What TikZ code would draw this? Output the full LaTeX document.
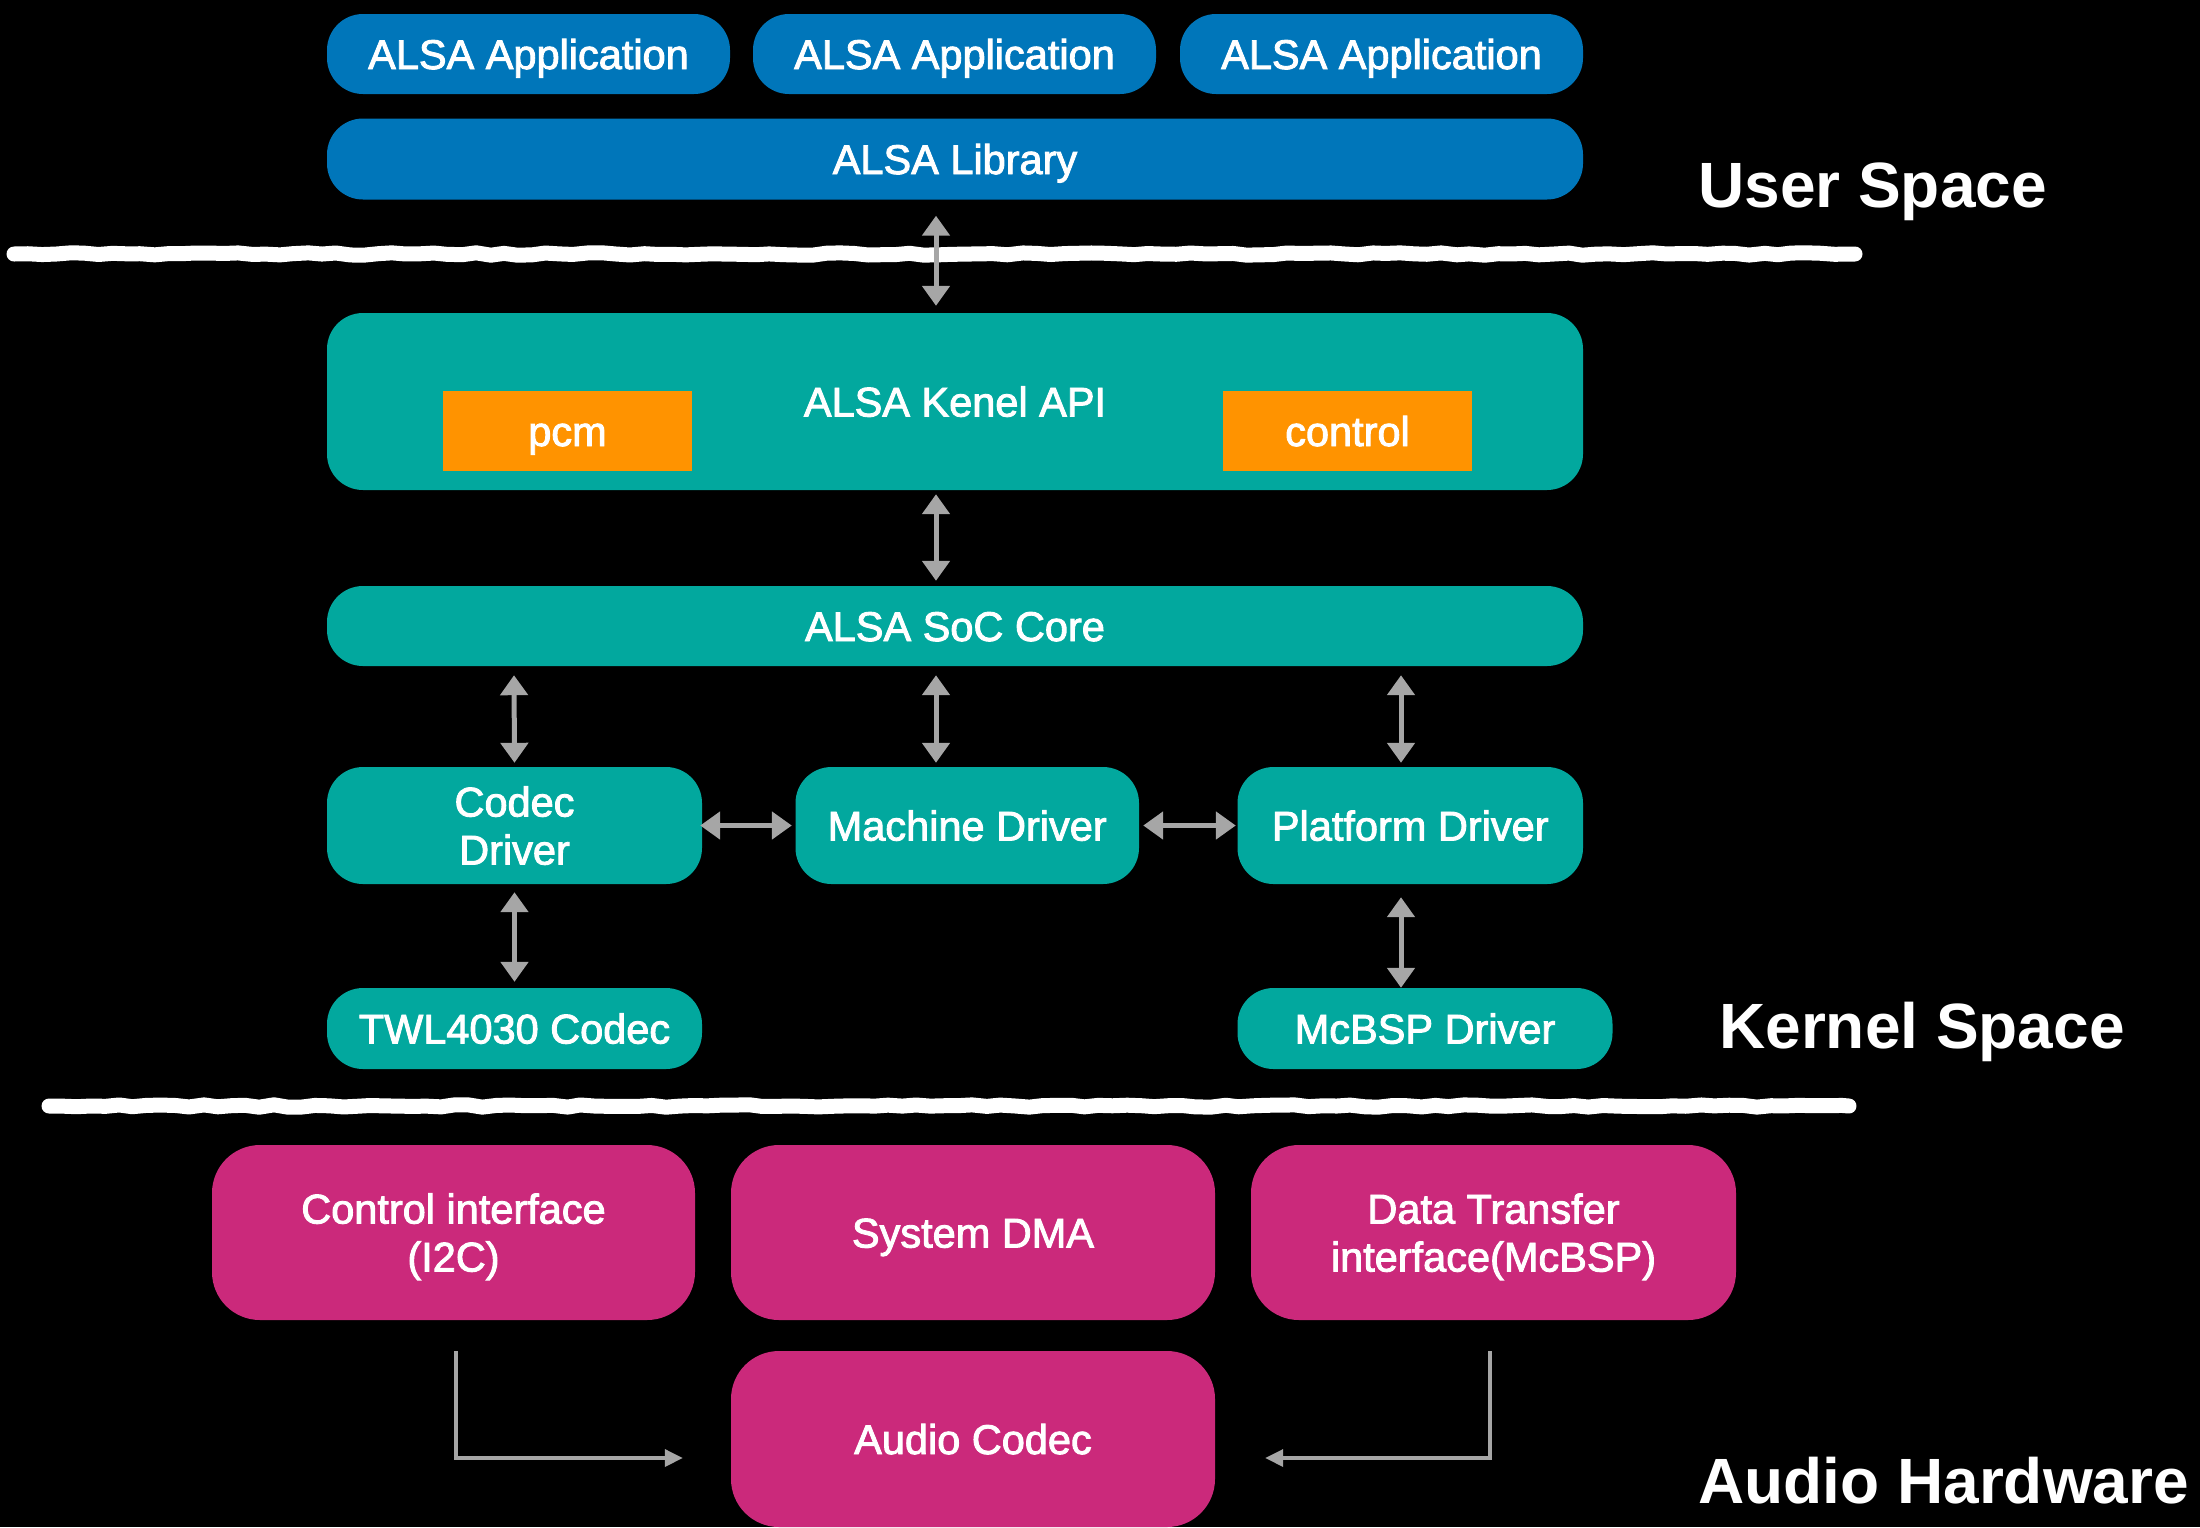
\documentclass[tikz,border=0pt]{standalone}
\usepackage{fontspec}
\setmainfont{Liberation Sans}
\newfontfamily\medfont{Liberation Sans}[FakeBold=2.2]
\usetikzlibrary{arrows.meta,decorations.pathmorphing,calc}
\definecolor{alsablue}{HTML}{0076BA}
\definecolor{kteal}{HTML}{02A89E}
\definecolor{korange}{HTML}{FF9300}
\definecolor{hwpink}{HTML}{CB297B}
\definecolor{arrowgrey}{HTML}{A6A6A6}
\begin{document}
\begin{tikzpicture}[x=1pt,y=-1pt,
  box/.style={inner sep=0pt, text=white, align=center,
    font=\medfont\fontsize{41.5}{48}\selectfont, text height=30pt, text depth=0pt},
  twoline/.style={text height=78pt, text depth=0pt},
  userbox/.style={box, fill=alsablue, rounded corners=36pt},
  kernbox/.style={box, fill=kteal, rounded corners=36pt},
  subbox/.style={box, fill=korange},
  hwbox/.style={box, fill=hwpink, rounded corners=48pt},
  biarrow/.style={draw=arrowgrey, line width=5pt,
    {Triangle[width=27pt,length=20pt]}-{Triangle[width=27pt,length=20pt]}},
  feed/.style={draw=arrowgrey, line width=3.5pt, -{Triangle[width=17pt,length=18pt]}},
  border/.style={draw=white, line width=15pt, line cap=round, line join=round,
    decorate, decoration={random steps, segment length=14pt, amplitude=1.2pt}},
  zone/.style={inner sep=0pt, anchor=base west, text=white,
    font=\bfseries\fontsize{64}{70}\selectfont}
]
\useasboundingbox (0,0) rectangle (2200,1527);
\fill[black] (0,0) rectangle (2200,1527);
\pgfmathsetseed{7}

% user space
\node[userbox, minimum width=403pt, minimum height=80pt] (app1) at (528.5,54) {ALSA Application};
\node[userbox, minimum width=403pt, minimum height=80pt] (app2) at (954.5,54) {ALSA Application};
\node[userbox, minimum width=403pt, minimum height=80pt] (app3) at (1381.5,54) {ALSA Application};
\node[userbox, minimum width=1256pt, minimum height=81pt] (lib) at (955,159) {ALSA Library};

% kernel space
\node[kernbox, minimum width=1256pt, minimum height=177pt] (api) at (955,401.5) {ALSA Kenel API};
\node[subbox, minimum width=249pt, minimum height=80pt] (pcm) at (567.5,431) {pcm};
\node[subbox, minimum width=249pt, minimum height=80pt] (ctl) at (1347.5,431) {control};
\node[kernbox, minimum width=1256pt, minimum height=80pt] (soc) at (955,626) {ALSA SoC Core};
\node[kernbox, twoline, minimum width=375pt, minimum height=117pt] (codec) at (514.5,825.5) {Codec\\Driver};
\node[kernbox, minimum width=343.5pt, minimum height=117pt] (machine) at (967.25,825.5) {Machine Driver};
\node[kernbox, minimum width=345.5pt, minimum height=117pt] (platform) at (1410.25,825.5) {Platform Driver};
\node[kernbox, minimum width=375pt, minimum height=81pt] (twl) at (514.5,1028.5) {TWL4030 Codec};
\node[kernbox, minimum width=375pt, minimum height=81pt] (mcbsp) at (1425,1028.5) {McBSP Driver};

% audio hardware
\node[hwbox, twoline, minimum width=483pt, minimum height=175pt] (ctrl) at (453.5,1232.5) {Control interface\\(I2C)};
\node[hwbox, minimum width=484pt, minimum height=175pt] (dma) at (973,1232.5) {System DMA};
\node[hwbox, twoline, minimum width=485pt, minimum height=175pt] (dt) at (1493.5,1232.5) {Data Transfer\\interface(McBSP)};
\node[hwbox, minimum width=484pt, minimum height=176pt] (audio) at (973,1439) {Audio Codec};

% space boundaries
\draw[border] (14,254) -- (1855,254);
\draw[border] (49,1106) -- (1849,1106);

% zone labels
\node[zone] (uspace) at (1698,207) {User Space};
\node[zone] (kspace) at (1719,1048) {Kernel Space};
\node[zone] (hspace) at (1698,1503) {Audio Hardware};

% interfaces between layers
\draw[biarrow] ($(lib.south)+(-19,16)$) -- ($(api.north)+(-19,-7)$);
\draw[biarrow] ($(api.south)+(-19,4)$) -- ($(soc.north)+(-19,-5)$);
\draw[biarrow] ($(soc.south)+(-441,9)$) -- ($(codec.north)+(0,-4)$);
\draw[biarrow] ($(soc.south)+(-19,9)$) -- ($(machine.north)+(-31.25,-4)$);
\draw[biarrow] ($(soc.south)+(446,9)$) -- ($(platform.north)+(-9.25,-4)$);
\draw[biarrow] ($(codec.east)+(-2,0)$) -- ($(machine.west)+(-3.5,0)$);
\draw[biarrow] ($(machine.east)+(4,0)$) -- ($(platform.west)+(-1.5,0)$);
\draw[biarrow] ($(codec.south)+(0,8)$) -- ($(twl.north)+(0,-6)$);
\draw[biarrow] ($(platform.south)+(-9.25,13)$) -- ($(mcbsp.north)+(-24,0)$);

% hardware data paths
\draw[feed] ($(ctrl.south)+(2.5,31)$) |- ($(audio.west)+(-48,19)$);
\draw[feed] ($(dt.south)+(-3.5,31)$) |- ($(audio.east)+(50,19)$);
\end{tikzpicture}
\end{document}
